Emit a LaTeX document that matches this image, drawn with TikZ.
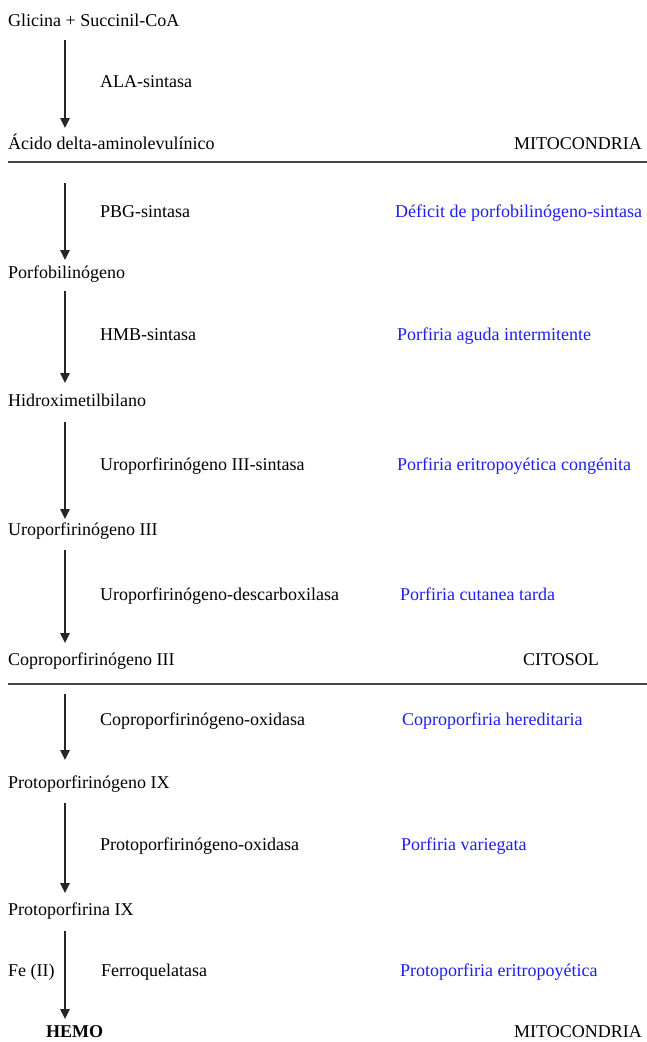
\documentclass[tikz,border=0pt]{standalone}
\usepackage{fontspec}
\setmainfont{Liberation Serif}
\usetikzlibrary{arrows.meta,calc}
\definecolor{dzblue}{RGB}{30,30,240}
\definecolor{linegray}{RGB}{70,70,70}
\tikzset{
  lbl/.style={anchor=base west,inner sep=0pt,font=\fontsize{18}{20}\selectfont},
  rlbl/.style={anchor=base east,inner sep=0pt,font=\fontsize{18}{20}\selectfont},
  dis/.style={lbl,text=dzblue},
  arr/.style={line width=1.7pt,draw=black!85,-{Triangle[width=9.5pt,length=10pt]}},
  sep/.style={line width=1.6pt,draw=linegray}
}
\begin{document}
\begin{tikzpicture}[x=1pt,y=-1pt]
\useasboundingbox (0,0) rectangle (647,1042);
\coordinate (ax) at (65,0);
% metabolites
\node[lbl] (m0) at (8,26) {Glicina + Succinil-CoA};
\node[lbl] (m1) at (8,149) {Ácido delta-aminolevulínico};
\node[lbl] (m2) at (8,278) {Porfobilinógeno};
\node[lbl] (m3) at (8,406) {Hidroximetilbilano};
\node[lbl] (m4) at (8,535) {Uroporfirinógeno III};
\node[lbl] (m5) at (8,665) {Coproporfirinógeno III};
\node[lbl] (m6) at (8,788) {Protoporfirinógeno IX};
\node[lbl] (m7) at (8,915) {Protoporfirina IX};
\node[lbl,font=\fontsize{18}{20}\selectfont\bfseries] (m8) at (46,1037) {HEMO};
% compartments
\node[rlbl] (c1) at (642,149) {MITOCONDRIA};
\node[rlbl] (c2) at (599,665) {CITOSOL};
\node[rlbl] (c3) at (642,1037) {MITOCONDRIA};
% enzymes
\node[lbl] (e1) at (100,87) {ALA-sintasa};
\node[lbl] (e2) at (100,217) {PBG-sintasa};
\node[lbl] (e3) at (100,340) {HMB-sintasa};
\node[lbl] (e4) at (100,470) {Uroporfirinógeno III-sintasa};
\node[lbl] (e5) at (100,600) {Uroporfirinógeno-descarboxilasa};
\node[lbl] (e6) at (100,725) {Coproporfirinógeno-oxidasa};
\node[lbl] (e7) at (100,850) {Protoporfirinógeno-oxidasa};
\node[lbl] (e8) at (101,976) {Ferroquelatasa};
\node[lbl] (fe) at (8,976) {Fe (II)};
% diseases
\node[dis] (d2) at (395,217) {Déficit de porfobilinógeno-sintasa};
\node[dis] (d3) at (397,340) {Porfiria aguda intermitente};
\node[dis] (d4) at (397,470) {Porfiria eritropoyética congénita};
\node[dis] (d5) at (400,600) {Porfiria cutanea tarda};
\node[dis] (d6) at (402,725) {Coproporfiria hereditaria};
\node[dis] (d7) at (401,850) {Porfiria variegata};
\node[dis] (d8) at (400,976) {Protoporfiria eritropoyética};
% separators
\coordinate (s1l) at (8,162);
\coordinate (s1r) at (647,162);
\coordinate (s2l) at (8,684);
\coordinate (s2r) at (647,684);
\draw[sep] (s1l) -- (s1r);
\draw[sep] (s2l) -- (s2r);
% arrows
\draw[arr] ($(m0.base -| ax)+(0,14)$) -- ($(m1.base -| ax)+(0,-21)$);
\draw[arr] ($(m1.base -| ax)+(0,34)$) -- ($(m2.base -| ax)+(0,-18)$);
\draw[arr] ($(m2.base -| ax)+(0,13)$) -- ($(m3.base -| ax)+(0,-23)$);
\draw[arr] ($(m3.base -| ax)+(0,16)$) -- ($(m4.base -| ax)+(0,-16)$);
\draw[arr] ($(m4.base -| ax)+(0,15)$) -- ($(m5.base -| ax)+(0,-22)$);
\draw[arr] ($(m5.base -| ax)+(0,29)$) -- ($(m6.base -| ax)+(0,-28)$);
\draw[arr] ($(m6.base -| ax)+(0,15)$) -- ($(m7.base -| ax)+(0,-22)$);
\draw[arr] ($(m7.base -| ax)+(0,16)$) -- ($(m8.base -| ax)+(0,-18)$);
\end{tikzpicture}
\end{document}
